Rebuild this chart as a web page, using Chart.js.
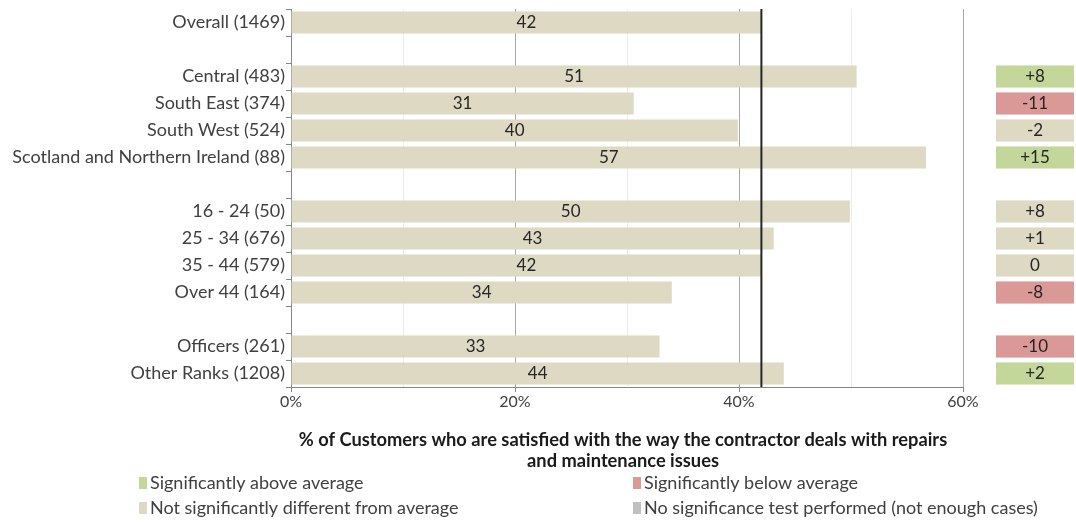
<!DOCTYPE html>
<html>
<head>
<meta charset="utf-8">
<script src="https://cdn.jsdelivr.net/npm/chart.js@4"></script>
<style>
  html, body { margin: 0; padding: 0; background: #ffffff; }
  #wrap { width: 1076px; height: 523px; position: relative; }
</style>
</head>
<body>
<div id="wrap"><canvas id="c" width="1076" height="523"></canvas></div>
<script>
const categories = ['Overall (1469)', '', 'Central (483)', 'South East (374)', 'South West (524)',
  'Scotland and Northern Ireland (88)', '', '16 - 24 (50)', '25 - 34 (676)', '35 - 44 (579)',
  'Over 44 (164)', '', 'Officers (261)', 'Other Ranks (1208)'];
const satisfied = [42.0, null, 50.5, 30.6, 39.9, 56.7, null, 49.9, 43.1, 42.0, 34.0, null, 32.9, 44.0];
const valueLabels = ['42', '', '51', '31', '40', '57', '', '50', '43', '42', '34', '', '33', '44'];
const differences = [null, null, 8, -11, -2, 15, null, 8, 1, 0, -8, null, -10, 2];
const significance = [null, null, 'above', 'below', 'none', 'above', null, 'none', 'none', 'none', 'below', null, 'below', 'above'];
const averageValue = 42;
const xTickValues = [0, 10, 20, 30, 40, 50, 60];
const xTickLabels = ['0%', '', '20%', '', '40%', '', '60%'];
const axisTitle = ['% of Customers who are satisfied with the way the contractor deals with repairs', 'and maintenance issues'];
const legendItems = [
  { key: 'above', text: 'Significantly above average' },
  { key: 'below', text: 'Significantly below average' },
  { key: 'none', text: 'Not significantly different from average' },
  { key: 'notest', text: 'No significance test performed (not enough cases)' }
];

const COLORS = { above: '#c4d79b', below: '#da9896', none: '#ddd9c3', notest: '#c0c0c0' };
const FONT = 'Lato';
const TEXT = '#404040';

const extras = {
  id: 'extras',
  afterDatasetsDraw(chart) {
    const ctx = chart.ctx;
    const xs = chart.scales.x, ys = chart.scales.y;
    const area = chart.chartArea;
    const meta = chart.getDatasetMeta(0);
    ctx.save();
    // value labels
    ctx.font = '17px ' + FONT;
    ctx.fillStyle = '#262626';
    ctx.textAlign = 'center';
    ctx.textBaseline = 'middle';
    meta.data.forEach((bar, i) => {
      if (satisfied[i] == null) return;
      const p = bar.getProps(['x', 'y', 'base'], true);
      ctx.fillText(valueLabels[i], (p.x + p.base) / 2, p.y);
    });
    // average line
    const ax = xs.getPixelForValue(averageValue);
    ctx.strokeStyle = '#262626';
    ctx.lineWidth = 2;
    ctx.beginPath();
    ctx.moveTo(ax, area.top);
    ctx.lineTo(ax, area.bottom);
    ctx.stroke();
    // difference boxes
    const bx0 = area.right + 33, bx1 = area.right + 111;
    meta.data.forEach((bar, i) => {
      if (differences[i] == null) return;
      const y = ys.getPixelForValue(i);
      const h = bar.height;
      ctx.fillStyle = COLORS[significance[i]];
      ctx.fillRect(bx0, y - h / 2, bx1 - bx0, h);
      const d = differences[i];
      const s = d > 0 ? '+' + d : String(d);
      ctx.fillStyle = '#262626';
      ctx.font = '17px ' + FONT;
      ctx.textAlign = 'center';
      ctx.fillText(s, (bx0 + bx1) / 2, y);
    });
    // axis title
    const cx = (area.left + area.right) / 2 - 4;
    ctx.font = 'bold 18.3px ' + FONT;
    ctx.fillStyle = '#1a1a1a';
    ctx.textAlign = 'center';
    ctx.fillText(axisTitle[0], cx, 440);
    ctx.fillText(axisTitle[1], cx, 461);
    // legend
    ctx.font = '18px ' + FONT;
    ctx.textAlign = 'left';
    const cols = [139, 633], rows = [483, 508];
    legendItems.forEach((it, k) => {
      const lx = cols[k % 2], ly = rows[Math.floor(k / 2)];
      ctx.fillStyle = COLORS[it.key];
      ctx.fillRect(lx, ly - 6, 8, 12);
      ctx.fillStyle = TEXT;
      ctx.fillText(it.text, lx + 11, ly);
    });
    ctx.restore();
  }
};

new Chart(document.getElementById('c'), {
  type: 'bar',
  data: {
    labels: categories,
    datasets: [{
      data: satisfied,
      backgroundColor: COLORS.none,
      borderWidth: 0,
      barPercentage: 0.82,
      categoryPercentage: 1.0
    }]
  },
  options: {
    indexAxis: 'y',
    responsive: false,
    animation: false,
    devicePixelRatio: 1,
    layout: { padding: { top: 9, right: 113, left: 0, bottom: 0 } },
    plugins: { legend: { display: false }, tooltip: { enabled: false } },
    scales: {
      x: {
        min: 0, max: 60,
        afterBuildTicks: s => { s.ticks = xTickValues.map(v => ({ value: v })); },
        afterFit: s => { s.height = 136; s.paddingLeft = 0; s.paddingRight = 0; },
        ticks: {
          callback: (v, i) => xTickLabels[i],
          font: { family: FONT, size: 16 },
          color: TEXT,
          padding: 0,
          maxRotation: 0,
          autoSkip: false
        },
        grid: {
          color: c => (c.tick && c.tick.value % 20 === 0) ? '#a8a8a8' : '#ececec',
          tickColor: c => (c.tick && c.tick.value % 20 === 0) ? '#868686' : 'rgba(0,0,0,0)',
          tickLength: 5,
          lineWidth: 1
        },
        border: { color: '#868686', width: 1 }
      },
      y: {
        afterFit: s => { s.width = 291; s.paddingTop = 0; s.paddingBottom = 0; },
        ticks: {
          font: { family: FONT, size: 18 },
          color: TEXT,
          padding: 1,
          autoSkip: false
        },
        grid: {
          drawOnChartArea: false,
          offset: true,
          tickLength: 5,
          color: '#868686'
        },
        border: { color: '#868686', width: 1 }
      }
    }
  },
  plugins: [extras]
});
</script>
</body>
</html>
